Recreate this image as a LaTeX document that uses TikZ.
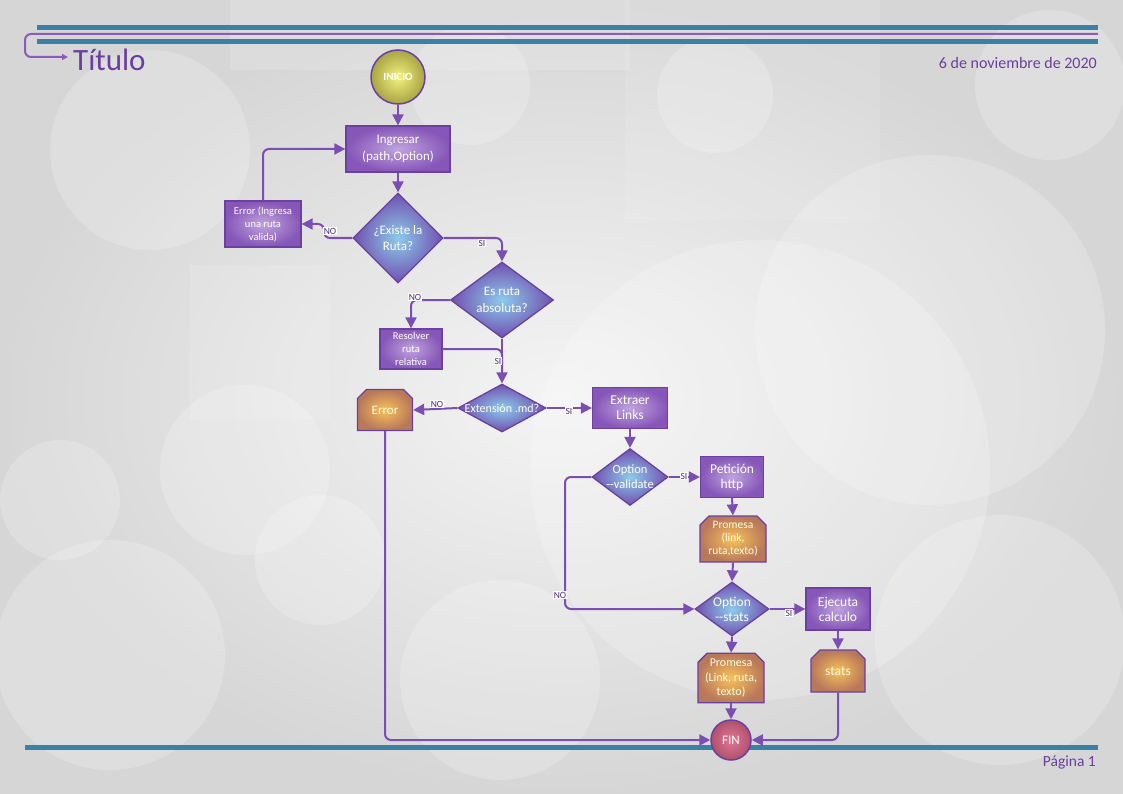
\documentclass[tikz,border=0pt]{standalone}
\usepackage{fontspec}
\setmainfont{Carlito}
\usetikzlibrary{shapes.geometric,shapes.misc,arrows.meta}
\definecolor{lnc}{HTML}{7A4EB3}
\definecolor{bdr}{HTML}{6A40A0}
\definecolor{barblue}{HTML}{3D80A5}
\definecolor{barpurp}{HTML}{8C5CBC}
\definecolor{ttl}{HTML}{6B3D9E}
\definecolor{boxin}{HTML}{BFA3DD}
\definecolor{boxout}{HTML}{8656B8}
\definecolor{diain}{HTML}{8CCBEB}
\definecolor{diaout}{HTML}{7150B0}
\definecolor{orin}{HTML}{F7C25A}
\definecolor{orout}{HTML}{B8785A}
\definecolor{iniin}{HTML}{F2F27E}
\definecolor{iniout}{HTML}{A8A444}
\definecolor{finin}{HTML}{E27890}
\definecolor{finout}{HTML}{B0506E}
\definecolor{lblc}{HTML}{4A2D80}
\definecolor{bgin}{HTML}{F4F4F4}
\definecolor{bgout}{HTML}{D6D6D6}
\newcommand{\fs}[2]{\fontsize{#1}{#2}\selectfont}
\begin{document}
\begin{tikzpicture}[x=1pt,y=-1pt,
  box/.style={rectangle, draw=bdr, line width=1.3pt, inner color=boxin, outer color=boxout, text=white, align=center, inner sep=1pt},
  dia/.style={diamond, draw=bdr, line width=1.3pt, inner color=diain, outer color=diaout, inner sep=0pt},
  diatext/.style={text=white, align=center},
  obox/.style={chamfered rectangle, chamfered rectangle corners={north west,north east}, chamfered rectangle xsep=4.5pt, chamfered rectangle ysep=4.5pt, draw=bdr, line width=1.3pt, inner color=orin, outer color=orout, text=white!88!yellow, align=center, inner sep=1pt},
  term/.style={circle, draw=bdr, line width=1.5pt, inner sep=0pt, text=white, align=center},
  conn/.style={draw=lnc, line width=2pt, rounded corners=6pt, -{Triangle[length=11pt,width=11pt]}},
  plainln/.style={draw=lnc, line width=2pt, rounded corners=6pt},
  lbl/.style={text=lblc, font=\fs{9.5}{10}, fill=white, inner sep=0.6pt},
  bgc/.style={fill=white, opacity=0.2},
]
\useasboundingbox (0,0) rectangle (1123,794);
% background
\shade[inner color=bgin, outer color=bgout] (0,0) rectangle (1123,794);
\fill[bgc] (150,150) circle (100);
\fill[bgc] (470,85) circle (60);
\fill[bgc] (715,95) circle (58);
\fill[bgc] (1050,85) circle (75);
\fill[bgc] (930,330) circle (175);
\fill[bgc] (760,470) circle (230);
\fill[bgc] (60,500) circle (60);
\fill[bgc] (245,470) circle (85);
\fill[bgc] (110,655) circle (115);
\fill[bgc] (320,560) circle (65);
\fill[bgc] (500,680) circle (100);
\fill[bgc] (1000,640) circle (125);
\fill[white, opacity=0.15] (230,0) rectangle (630,70);
\fill[white, opacity=0.12] (190,265) rectangle (330,420);
\fill[white, opacity=0.1] (625,0) rectangle (880,220);
% header / footer
\fill[barblue] (37,25) rectangle (1098,30);
\fill[barblue] (37,39) rectangle (1098,44);
\coordinate (hstart) at (1098,34);
\coordinate (hend) at (68,57);
\draw[draw=barpurp, line width=2pt, rounded corners=6pt, -{Triangle[length=6pt,width=6pt]}] (hstart) -- (25,34) |- (hend);
\node[anchor=base west, text=ttl, font=\fs{31}{34}, inner sep=0pt] (title) at (73,71) {Título};
\node[anchor=base east, text=ttl, font=\fs{16}{18}, inner sep=0pt] (date) at (1097,69) {6 de noviembre de 2020};
\fill[barblue] (25,745) rectangle (1098,750);
\node[anchor=base east, text=ttl, font=\fs{15.5}{17}, inner sep=0pt] (page) at (1096,766) {Página 1};

% nodes
\node[term, minimum size=54pt, inner color=iniin, outer color=iniout, font=\bfseries\fs{11}{12}] (ini) at (398,77) {INICIO};
\node[box, minimum width=104pt, minimum height=46pt, font=\fs{13}{16.5}] (ing) at (398,149) {Ingresar\\(path,Option)};
\node[dia, minimum width=90pt, minimum height=90pt, label={[diatext,font=\fs{13}{16.5}]center:¿Existe la\\Ruta?}] (ex) at (398,238) {};
\node[box, minimum width=76pt, minimum height=46pt, font=\fs{10.5}{13}] (err1) at (263,224) {Error (Ingresa\\una ruta\\valida)};
\node[dia, minimum width=103pt, minimum height=76pt, label={[diatext,font=\fs{13}{16.5}]center:Es ruta\\absoluta?}] (es) at (502,300) {};
\node[box, minimum width=62pt, minimum height=40pt, font=\fs{10.5}{13.3}] (res) at (411,349) {Resolver\\ruta\\relativa};
\node[dia, minimum width=88pt, minimum height=48pt, label={[diatext,font=\fs{12}{14}]center:Extensión .md?}] (ext) at (502,408) {};
\node[obox, minimum width=55pt, minimum height=41pt, font=\fs{13}{14}] (err2) at (385,410) {Error};
\node[box, minimum width=75pt, minimum height=41pt, font=\fs{13.5}{15}] (extr) at (630,408) {Extraer\\Links};
\node[dia, minimum width=76pt, minimum height=57pt, label={[diatext,font=\fs{12.5}{15}]center:Option\\-{}-validate}] (optv) at (630,477) {};
\node[box, minimum width=63pt, minimum height=41pt, font=\fs{13.5}{15}] (pet) at (732,477) {Petición\\http};
\node[obox, minimum width=66pt, minimum height=42pt, font=\fs{11.5}{13}] (prom1) at (733,539) {Promesa\\(link,\\ruta,texto)};
\node[dia, minimum width=74pt, minimum height=54pt, label={[diatext,font=\fs{13.5}{15}]center:Option\\-{}-stats}] (opts) at (732,609) {};
\node[box, minimum width=64pt, minimum height=42pt, font=\fs{13.5}{15}] (ejec) at (838,609) {Ejecuta\\calculo};
\node[obox, minimum width=54pt, minimum height=42pt, font=\fs{13.5}{15}] (stats) at (838,671) {stats};
\node[obox, minimum width=66pt, minimum height=41pt, font=\fs{12}{14.5}] (prom2) at (731,678) {Promesa\\(Link, ruta,\\texto)};
\node[term, minimum size=40pt, inner color=finin, outer color=finout, font=\fs{13}{14}] (fin) at (731,740) {FIN};

% connectors
\draw[conn] (ini) -- (ing);
\draw[conn] (ing) -- (ex);
\draw[conn] (ex.west) -- (324,238) |- (err1.east);
\draw[conn] (err1.north) |- (ing.west);
\draw[conn] (ex.east) -| (es.north);
\draw[conn] (es.west) -| (res.north);
\draw[conn] (es.south) -- (ext.north);
\coordinate (merge) at (502,372);
\draw[plainln] (res.east) -| (merge);
\draw[conn] (ext.west) -- (err2.east);
\draw[conn] (ext.east) -- (extr.west);
\draw[conn] (extr.south) -- (optv.north);
\draw[conn] (optv.east) -- (pet.west);
\coordinate (nobend) at (565,540);
\draw[conn] (optv.west) -| (nobend) |- (opts.west);
\draw[conn] (pet.south) -- (prom1.north);
\draw[conn] (prom1.south) -- (opts.north);
\draw[conn] (opts.east) -- (ejec.west);
\draw[conn] (opts.south) -- (prom2.north);
\draw[conn] (ejec.south) -- (stats.north);
\draw[conn] (prom2.south) -- (fin.north);
\draw[conn] (stats.south) |- (fin.east);
\draw[conn] (err2.south) |- (fin.west);

% connector labels
\node[lbl] (l1) at (330,231) {NO};
\node[lbl] (l2) at (482,243) {SI};
\node[lbl] (l3) at (415,297) {NO};
\node[lbl] (l4) at (498,361) {SI};
\node[lbl] (l5) at (437,404) {NO};
\node[lbl] (l6) at (569,411) {SI};
\node[lbl] (l7) at (684,476) {SI};
\node[lbl] (l8) at (560,595) {NO};
\node[lbl] (l9) at (789,613) {SI};
\end{tikzpicture}
\end{document}
